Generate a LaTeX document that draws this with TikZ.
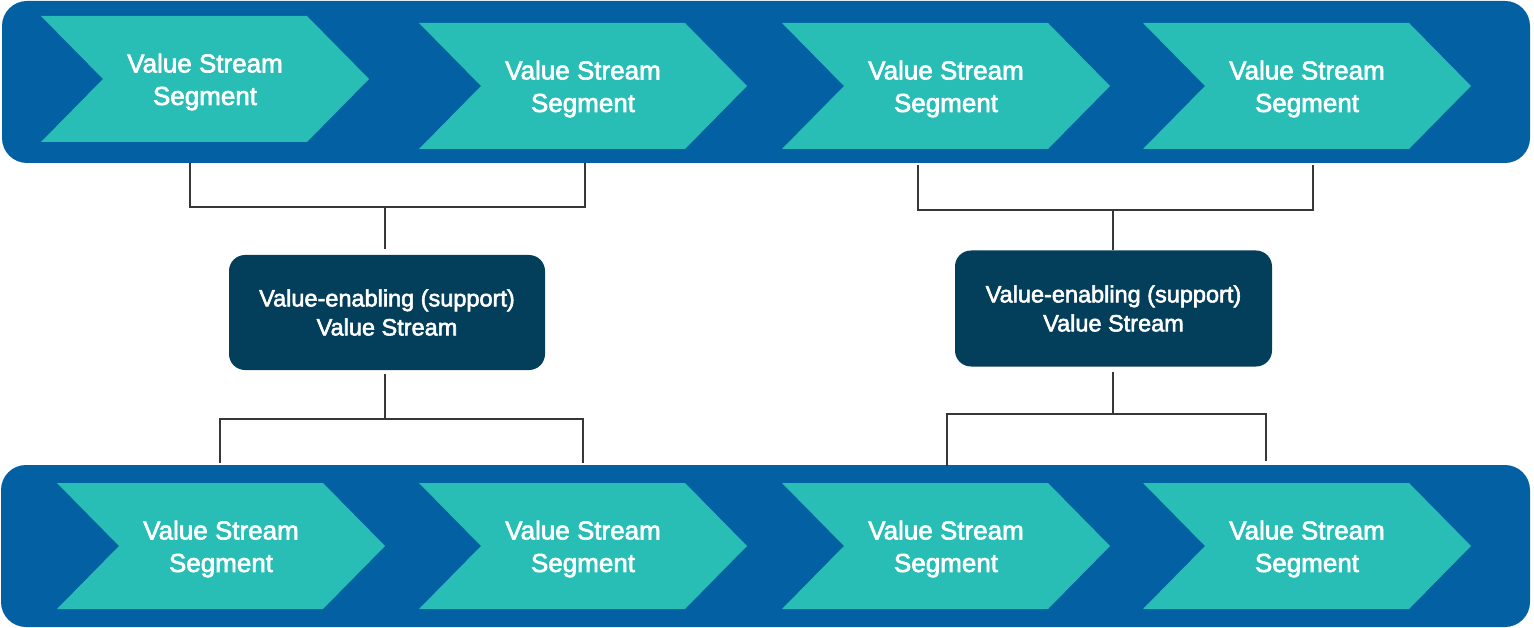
\documentclass[tikz,border=0pt]{standalone}
\usepackage{fontspec}
\setmainfont{Liberation Sans}[FakeBold=2.4]
\begin{document}
\definecolor{bandblue}{RGB}{2,96,163}
\definecolor{segteal}{RGB}{41,190,181}
\definecolor{supnavy}{RGB}{3,62,90}
\definecolor{linegray}{RGB}{55,55,55}
\begin{tikzpicture}[x=1pt,y=-1pt,
  band/.style={fill=bandblue, rounded corners=25pt, inner sep=0pt, outer sep=0pt, anchor=north west},
  segfill/.style={fill=segteal},
  segtext/.style={text=white, align=center, font=\fontsize{26}{32.5}\selectfont},
  support/.style={fill=supnavy, rounded corners=16pt, inner sep=0pt, outer sep=0pt,
    text=white, align=center, font=\fontsize{23.5}{29}\selectfont},
  conn/.style={draw=linegray, line width=1.8pt}]
\useasboundingbox (0,0) rectangle (1534,628);

% value stream bands
\node[band, minimum width=1528pt, minimum height=162pt] (topband) at (2,1) {};
\node[band, minimum width=1529pt, minimum height=162pt] (botband) at (1,465) {};

% chevron segment: name, left x, top y
\newcommand\vsseg[3]{%
  \fill[segfill] (#2,#3) -- ++(266,0) -- ++(62,63) -- ++(-62,63) -- ++(-266,0) -- ++(62,-63) -- cycle;
  \node[segtext] (#1) at (#2+164,#3+66) {Value Stream\\Segment};}

\vsseg{t1}{41}{16}
\vsseg{t2}{419}{23}
\vsseg{t3}{782}{23}
\vsseg{t4}{1143}{23}
\vsseg{b1}{57}{483}
\vsseg{b2}{419}{483}
\vsseg{b3}{782}{483}
\vsseg{b4}{1143}{483}

% support value streams
\node[support, minimum width=316pt, minimum height=115pt] (sup1) at (387,312.5)
  {Value-enabling (support)\\Value Stream};
\node[support, minimum width=317pt, minimum height=116pt] (sup2) at (1113.5,308.5)
  {Value-enabling (support)\\Value Stream};

% bracket points
\coordinate (a1) at (190,163);
\coordinate (a2) at (585,163);
\coordinate (j1) at (385,207);
\coordinate (j2) at (385,419);
\coordinate (c1) at (220,463);
\coordinate (c2) at (583,463);
\coordinate (a3) at (918,165);
\coordinate (a4) at (1313,165);
\coordinate (j3) at (1113,210);
\coordinate (j4) at (1113,414);
\coordinate (c3) at (947,466);
\coordinate (c4) at (1266,461);

% left brackets
\draw[conn] (a1) |- (j1) -| (a2);
\draw[conn, shorten >=6pt] (j1) -- (j1 |- sup1.north);
\draw[conn, shorten >=4pt] (j2) -- (j2 |- sup1.south);
\draw[conn] (c1) |- (j2) -| (c2);

% right brackets
\draw[conn] (a3) |- (j3) -| (a4);
\draw[conn] (j3) -- (j3 |- sup2.north);
\draw[conn, shorten >=5pt] (j4) -- (j4 |- sup2.south);
\draw[conn] (c3) |- (j4) -| (c4);
\end{tikzpicture}
\end{document}
